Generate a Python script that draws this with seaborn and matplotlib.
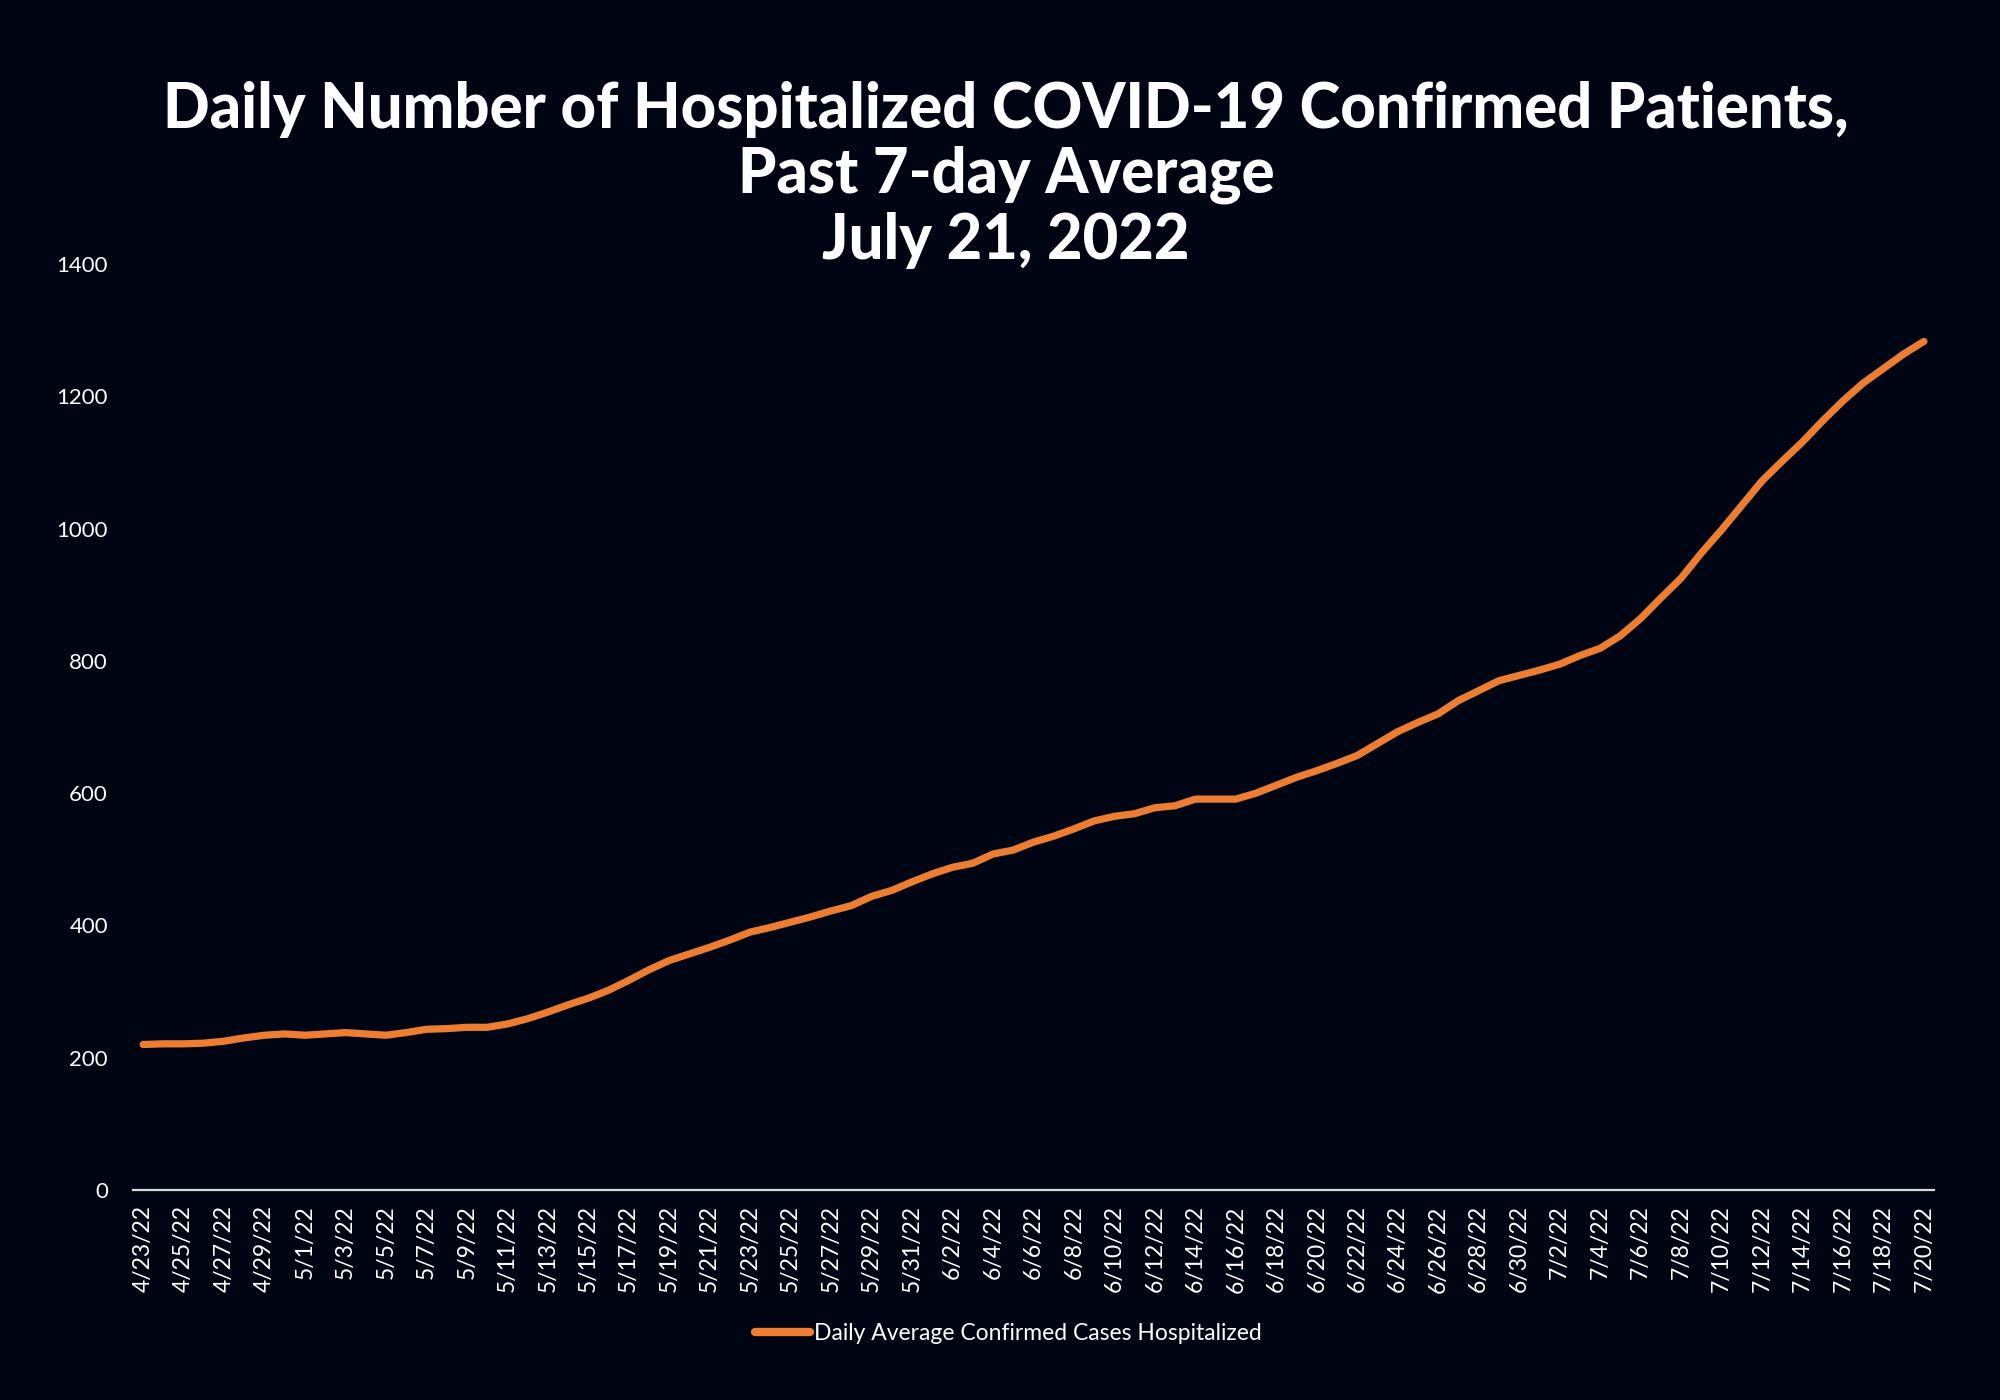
import matplotlib
matplotlib.use("Agg")
import matplotlib.pyplot as plt
import seaborn as sns
import pandas as pd
import numpy as np

# ---- data ----
start_date = "2022-04-23"
end_date = "2022-07-20"
dates = pd.date_range(start_date, end_date, freq="D")
date_labels = [f"{d.month}/{d.day}/{d.strftime('%y')}" for d in dates]

hospitalized = [
    220, 221, 221, 222, 225, 230, 234, 236,            # 4/23 - 4/30
    234, 236, 238, 236, 234, 238, 243, 244, 246, 246,  # 5/1 - 5/10
    251, 259, 269, 280, 290, 302, 317, 333, 347, 357,  # 5/11 - 5/20
    367, 378, 390, 397, 405, 413, 422, 430, 444, 453,  # 5/21 - 5/30
    466,                                               # 5/31
    478, 488, 494, 508, 514, 526, 535, 546, 558, 565,  # 6/1 - 6/10
    569, 578, 581, 591, 591, 591, 600, 612, 624, 634,  # 6/11 - 6/20
    645, 657, 675, 693, 707, 720, 740, 755, 770, 778,  # 6/21 - 6/30
    786, 795, 808, 819, 838, 864, 895, 925, 963, 998,  # 7/1 - 7/10
    1035, 1072, 1102, 1131, 1163, 1193, 1220, 1242, 1264, 1283,  # 7/11 - 7/20
]
series_name = "Daily Average Confirmed Cases Hospitalized"
y_ticks = [0, 200, 400, 600, 800, 1000, 1200, 1400]
title_lines = [
    "Daily Number of Hospitalized COVID-19 Confirmed Patients,",
    "Past 7-day Average",
    "July 21, 2022",
]

# ---- style ----
BG = "#000514"
ORANGE = "#ED7D31"
sns.set_theme(style="dark")
plt.rcParams["font.family"] = ["Lato", "DejaVu Sans"]

df = pd.DataFrame({"pos": np.arange(len(hospitalized)), "value": hospitalized,
                   "series": series_name})

fig = plt.figure(figsize=(20, 14), dpi=100, facecolor=BG)
ax = fig.add_axes([0.0665, 0.15, 0.9005, 0.6614])
ax.set_facecolor(BG)

sns.lineplot(data=df, x="pos", y="value", hue="series", palette=[ORANGE],
             linewidth=5.2, ax=ax, solid_capstyle="round", solid_joinstyle="round")

ax.set_xlim(-0.5, len(hospitalized) - 0.5)
ax.set_ylim(0, 1400)
ax.set_yticks(y_ticks)
ax.set_yticklabels([str(v) for v in y_ticks], color="white", fontsize=16)
tick_idx = list(range(0, len(date_labels), 2))
ax.set_xticks(tick_idx)
ax.set_xticklabels([date_labels[i] for i in tick_idx], rotation=90,
                   color="white", fontsize=16.5, va="top", ha="center")
ax.tick_params(axis="x", length=0, pad=11)
ax.tick_params(axis="y", length=0, pad=18)
ax.set_xlabel("")
ax.set_ylabel("")
ax.grid(False)
for s in ["top", "right", "left"]:
    ax.spines[s].set_visible(False)
ax.spines["bottom"].set_color("#D9D9D9")
ax.spines["bottom"].set_linewidth(1.6)

leg = ax.legend(loc="center", bbox_to_anchor=(0.486, -0.155), frameon=False,
                fontsize=16.5, handlelength=2.4, handletextpad=0.2)
for t in leg.get_texts():
    t.set_color("white")
for h in leg.get_lines():
    h.set_linewidth(6)
    h.set_solid_capstyle("round")

for txt, yy in zip(title_lines, [0.922, 0.875, 0.828]):
    fig.text(0.503, yy, txt, ha="center", va="center",
             fontsize=44.3, fontweight=900, color="white")

fig.savefig("out.png", dpi=100, facecolor=BG)
